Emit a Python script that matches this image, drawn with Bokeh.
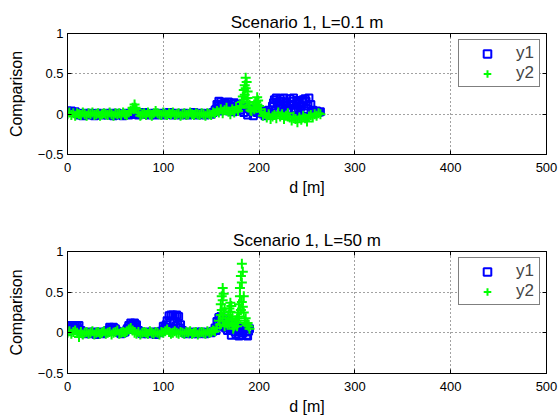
import numpy as np
from bokeh.plotting import figure
from bokeh.layouts import column
from bokeh.models import (FixedTicker, LinearAxis, Range1d, Legend, LegendItem,
                          CustomJSTickFormatter, Title)
from bokeh.embed import file_html
from bokeh.resources import INLINE

# ---------------- data ----------------
titles = ["Scenario 1, L=0.1 m", "Scenario 1, L=50 m"]
x_label = "d [m]"
y_label = "Comparison"
x_ticks = [0, 100, 200, 300, 400, 500]
y_ticks = [-0.5, 0, 0.5, 1]
series_names = ["y1", "y2"]

# top panel: d = 0, 2, ..., 264 m
d_top = list(range(0, 266, 2))
y1_top = [
    0.04, 0.03, 0.04, 0.02, 0.03, 0.01, -0.01, 0.00, -0.02, 0.01,
    0.00, -0.01, 0.01, 0.00, -0.02, -0.01, 0.01, 0.00, -0.01, 0.00,
    0.01, -0.01, 0.00, 0.01, -0.02, 0.00, 0.01, -0.01, 0.00, -0.02,
    0.00, 0.01, -0.01, 0.00, 0.02, 0.01, 0.00, -0.01, 0.01, 0.00,
    0.02, 0.01, 0.00, -0.01, 0.00, 0.01, -0.01, 0.00, 0.01, 0.00,
    -0.01, 0.00, 0.01, 0.02, 0.01, -0.01, 0.00, 0.01, 0.00, -0.01,
    0.00, 0.01, 0.00, -0.01, 0.00, 0.01, 0.02, 0.00, -0.01, 0.00,
    0.01, 0.00, -0.01, 0.00, 0.01, 0.00, 0.02, 0.05, 0.12, 0.16,
    0.15, 0.08, 0.14, 0.10, 0.15, 0.06, 0.13, 0.14, 0.09, 0.12,
    0.05, 0.10, 0.02, 0.08, -0.01, 0.06, 0.03, -0.02, 0.05, 0.02,
    0.06, 0.01, 0.04, -0.02, 0.03, 0.05, 0.01, 0.10, 0.18, 0.20,
    0.12, 0.19, 0.08, 0.20, 0.15, 0.05, 0.19, 0.11, 0.20, 0.07,
    0.17, 0.14, 0.10, 0.18, 0.19, 0.06, 0.20, 0.12, 0.05, 0.03,
    0.04, 0.02, 0.03,
]
y2_top = [
    0.00, 0.02, -0.01, 0.01, -0.02, 0.01, 0.00, -0.01, 0.02, 0.00,
    -0.02, 0.01, 0.00, 0.02, -0.01, 0.00, 0.01, -0.02, 0.00, 0.01,
    0.00, -0.01, 0.02, 0.00, -0.02, 0.01, 0.00, 0.01, -0.01, 0.02,
    0.00, -0.01, 0.02, 0.04, 0.08, 0.12, 0.06, 0.02, -0.02, 0.00,
    0.01, -0.01, 0.02, 0.00, -0.02, 0.01, 0.04, 0.01, 0.00, -0.01,
    0.02, 0.00, -0.01, 0.01, 0.00, 0.02, -0.01, 0.00, 0.01, -0.02,
    0.00, 0.01, -0.01, 0.00, 0.02, 0.00, -0.01, 0.01, 0.00, -0.01,
    0.01, 0.00, -0.02, 0.01, 0.00, -0.01, 0.02, 0.01, 0.04, 0.02,
    0.06, 0.01, 0.05, 0.08, 0.03, 0.00, 0.06, 0.02, 0.09, 0.04,
    0.08, 0.15, 0.30, 0.45, 0.28, 0.12, 0.04, 0.08, 0.14, 0.21,
    0.10, 0.03, -0.02, 0.01, -0.04, 0.00, -0.06, -0.03, -0.01, -0.05,
    0.02, -0.03, 0.00, -0.06, -0.02, 0.01, -0.04, -0.08, -0.03, -0.06,
    -0.10, -0.04, -0.07, -0.02, -0.05, -0.09, -0.03, -0.01, -0.04, 0.00,
    -0.02, 0.01, 0.00,
]
# extra readings in the dense clusters (odd d values)
d_top_b = [155, 157, 159, 161, 163, 165, 167, 169, 171, 173, 175, 177,
           215, 217, 219, 221, 223, 225, 227, 229, 231, 233, 235, 237,
           239, 241, 243, 245, 247, 249, 251]
y1_top_b = [0.06, 0.10, 0.04, 0.11, 0.05, 0.12, 0.07, 0.04, 0.08, 0.03, 0.10, 0.06,
            0.14, 0.04, 0.15, 0.06, 0.16, 0.10, 0.04, 0.14, 0.06, 0.12, 0.16, 0.03,
            0.13, 0.05, 0.09, 0.15, 0.04, 0.16, 0.10]
d_top_g = [181, 183, 184, 185, 185, 186, 187, 187, 188, 189, 191,
           195, 197, 197, 198, 199, 201, 71, 69]
y2_top_g = [0.10, 0.22, 0.18, 0.36, 0.24, 0.32, 0.40, 0.15, 0.20, 0.08, 0.05,
            0.06, 0.15, 0.08, 0.12, 0.17, 0.06, 0.08, 0.06]

# bottom panel: d = 0, 2, ..., 190 m
d_bot = list(range(0, 192, 2))
y1_bot = [
    0.02, 0.08, 0.09, 0.07, 0.09, 0.08, 0.09, 0.03, 0.00, -0.01,
    0.00, 0.01, -0.01, 0.00, 0.01, -0.02, 0.00, 0.01, -0.01, 0.00,
    0.01, 0.03, 0.07, 0.06, 0.07, 0.05, 0.02, 0.00, -0.01, 0.00,
    0.01, 0.04, 0.09, 0.12, 0.11, 0.12, 0.10, 0.03, 0.00, -0.01,
    0.00, 0.01, -0.01, 0.00, 0.01, 0.00, -0.02, 0.01, 0.00, 0.02,
    0.08, 0.07, 0.15, 0.21, 0.22, 0.22, 0.21, 0.22, 0.20, 0.10,
    0.03, 0.00, -0.01, 0.01, 0.00, -0.01, 0.00, 0.01, -0.01, 0.00,
    0.01, 0.00, -0.01, 0.00, 0.01, 0.00, 0.02, 0.06, 0.14, 0.19,
    0.20, 0.12, 0.18, 0.09, 0.15, 0.04, 0.10, 0.06, -0.02, 0.08,
    0.02, -0.03, 0.07, 0.01, -0.04, 0.05,
]
y2_bot = [
    0.00, 0.02, -0.01, 0.01, 0.03, 0.00, -0.05, 0.01, -0.02, 0.00,
    0.01, -0.01, 0.00, 0.02, -0.02, 0.00, 0.01, -0.01, 0.00, 0.02,
    -0.01, 0.00, 0.01, -0.02, 0.00, 0.01, 0.03, -0.01, 0.00, 0.01,
    0.00, 0.02, 0.04, 0.06, 0.03, 0.00, -0.01, 0.01, -0.02, 0.00,
    0.01, 0.00, -0.01, 0.02, 0.00, -0.01, 0.01, 0.00, -0.02, 0.01,
    0.00, 0.02, 0.04, 0.01, -0.01, 0.00, 0.02, 0.00, -0.01, 0.01,
    0.00, -0.01, 0.01, 0.00, 0.02, -0.01, 0.00, 0.01, -0.02, 0.00,
    0.01, 0.00, -0.01, 0.02, 0.00, 0.01, 0.03, 0.02, 0.06, 0.15,
    0.35, 0.55, 0.30, 0.12, 0.22, 0.37, 0.20, 0.08, 0.15, 0.25,
    0.55, 0.85, 0.45, 0.18, 0.12, 0.05,
]
d_bot_b = [1, 3, 5, 7, 9, 11, 43, 45, 47, 49, 63, 65, 67, 69, 71,
           101, 103, 105, 107, 109, 111, 113, 115, 117,
           155, 157, 159, 161, 163, 165, 167, 169, 171, 173, 175, 177, 179, 181, 183, 185, 187, 189]
y1_bot_b = [0.04, 0.05, 0.03, 0.06, 0.04, 0.05, 0.03, 0.04, 0.02, 0.04, 0.06, 0.05, 0.08, 0.04, 0.07,
            0.04, 0.10, 0.06, 0.12, 0.05, 0.14, 0.08, 0.10, 0.06,
            0.03, 0.10, 0.14, 0.08, 0.12, 0.06, 0.03, 0.08, -0.03, 0.05, 0.01, 0.06, -0.04, 0.03,
            0.00, 0.06, -0.03, 0.02]
d_bot_g = [159, 160, 161, 161, 162, 162, 163, 163, 164, 165, 167,
           168, 169, 169, 170, 171, 171, 172, 173, 175, 177, 177, 178,
           179, 179, 180, 181, 181, 182, 182, 183, 183, 184, 185, 187, 189]
y2_bot_g = [0.10, 0.22, 0.45, 0.28, 0.18, 0.40, 0.48, 0.25, 0.08, 0.15, 0.10,
            0.18, 0.30, 0.12, 0.26, 0.33, 0.16, 0.10, 0.05, 0.12, 0.18, 0.08, 0.12,
            0.35, 0.20, 0.45, 0.70, 0.28, 0.62, 0.38, 0.75, 0.32, 0.25, 0.15, 0.10, 0.08]

FONT = "Liberation Sans"
BLUE = "#0000ff"
GREEN = "#00ff00"


def make_panel(title, d, y1, y2, db, y1b, dg, y2g, height, top, bottom):
    p = figure(width=558, height=height, output_backend="svg", toolbar_location=None,
               x_range=Range1d(0, 500), y_range=Range1d(-0.5, 1),
               min_border_left=67, min_border_right=12,
               min_border_top=top, min_border_bottom=bottom)
    p.title = Title(text=title, align="center", text_font=FONT, text_font_size="17px",
                    text_font_style="normal", text_color="black", standoff=4)
    p.background_fill_color = "white"
    p.border_fill_color = "white"
    p.outline_line_color = "black"
    p.outline_line_width = 1

    r1 = p.scatter(d, y1, marker="square", size=7, fill_color=None,
                   line_color=BLUE, line_width=2)
    p.scatter(db, y1b, marker="square", size=7, fill_color=None,
              line_color=BLUE, line_width=2)
    r2 = p.scatter(d, y2, marker="cross", size=10, line_color=GREEN, line_width=2)
    p.scatter(dg, y2g, marker="cross", size=10, line_color=GREEN, line_width=2)

    fmt = CustomJSTickFormatter(code="return tick < 0 ? '\u2212' + Math.abs(tick) : String(tick);")
    for ax in p.xaxis:
        ax.ticker = FixedTicker(ticks=x_ticks)
        ax.axis_label = x_label
        ax.major_label_standoff = 8
        ax.axis_label_standoff = 4
    for ax in p.yaxis:
        ax.ticker = FixedTicker(ticks=y_ticks)
        ax.formatter = fmt
        ax.axis_label = y_label
        ax.major_label_standoff = 4
        ax.axis_label_standoff = 10
    for ax in list(p.xaxis) + list(p.yaxis):
        ax.major_tick_in = 4
        ax.major_tick_out = 0
        ax.minor_tick_in = 0
        ax.minor_tick_out = 0
        ax.axis_line_color = "black"
        ax.major_tick_line_color = "black"
        ax.major_label_text_font = FONT
        ax.major_label_text_font_size = "13px"
        ax.major_label_text_color = "black"
        ax.axis_label_text_font = FONT
        ax.axis_label_text_font_size = "16px"
        ax.axis_label_text_font_style = "normal"
        ax.axis_label_text_color = "black"

    # mirrored tick marks on top and right edges (no labels)
    blank = CustomJSTickFormatter(code="return '';")
    for loc, ticks in (("above", x_ticks), ("right", y_ticks)):
        ax = LinearAxis(ticker=FixedTicker(ticks=ticks), formatter=blank,
                        major_label_standoff=0, major_tick_in=4, major_tick_out=0,
                        minor_tick_in=0, minor_tick_out=0, axis_line_color="black",
                        major_tick_line_color="black")
        p.add_layout(ax, loc)

    p.xgrid.ticker = FixedTicker(ticks=x_ticks)
    p.ygrid.ticker = FixedTicker(ticks=y_ticks)
    for g in (p.xgrid, p.ygrid):
        g.grid_line_color = "#444444"
        g.grid_line_dash = "1 3"
        g.grid_line_width = 1

    legend = Legend(items=[LegendItem(label=series_names[0], renderers=[r1]),
                           LegendItem(label=series_names[1], renderers=[r2])],
                    location="top_right", margin=6, padding=3, spacing=0,
                    glyph_width=50, glyph_height=19, label_height=19,
                    label_standoff=4, label_text_font=FONT, label_text_font_size="17px",
                    border_line_color="black", border_line_width=1,
                    background_fill_color="white", background_fill_alpha=1)
    p.add_layout(legend)
    return p


p_top = make_panel(titles[0], d_top, y1_top, y2_top, d_top_b, y1_top_b, d_top_g, y2_top_g,
                   200, 33, 46)
p_bot = make_panel(titles[1], d_bot, y1_bot, y2_bot, d_bot_b, y1_bot_b, d_bot_g, y2_bot_g,
                   218, 51, 45)

layout = column(p_top, p_bot, spacing=0)
open("out.html", "w").write(file_html(layout, INLINE))
